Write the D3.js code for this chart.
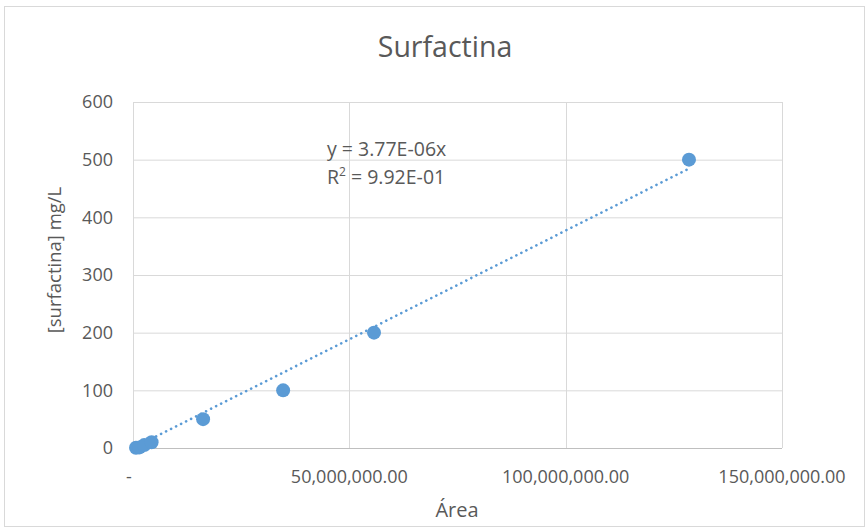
<!DOCTYPE html>
<html>
<head>
<meta charset="utf-8">
<script src="https://cdn.jsdelivr.net/npm/d3@7"></script>
<style>
  html, body { margin: 0; padding: 0; background: #fff; }
  text { font-family: "Open Sans", "Noto Sans", sans-serif; fill: #595959; }
</style>
</head>
<body>
<svg id="chart" width="867" height="529"></svg>
<script>
// Calibration points: peak area vs. surfactin concentration (mg/L)
const areas = [700000, 1500000, 2600000, 4300000, 16200000, 34700000, 55700000, 128500000];
const concentrations = [0.5, 1, 5, 10, 50, 100, 200, 500];
const slope = 3.77e-6;          // trendline through origin
const rSquared = "9.92E-01";
const xTicks = [0, 50000000, 100000000, 150000000];
const yTicks = [0, 100, 200, 300, 400, 500, 600];

const svg = d3.select("#chart");
const W = 867, H = 529;
const margin = { left: 133, right: W - 782, top: 102, bottom: H - 448 };

const x = d3.scaleLinear().domain([0, 150000000]).range([margin.left, W - margin.right]);
const y = d3.scaleLinear().domain([0, 600]).range([H - margin.bottom, margin.top]);

const blue = "#5b9bd5";

// outer chart border
svg.append("rect").attr("x", 4.5).attr("y", 6.5).attr("width", 860).attr("height", 520)
  .attr("fill", "#fff").attr("stroke", "#d9d9d9");

// horizontal gridlines
svg.append("g").selectAll("line").data(yTicks.filter(d => d > 0)).join("line")
  .attr("x1", x(0)).attr("x2", x(150000000))
  .attr("y1", d => y(d) + 0.5).attr("y2", d => y(d) + 0.5)
  .attr("stroke", "#d9d9d9");

// vertical gridlines
svg.append("g").selectAll("line").data(xTicks).join("line")
  .attr("x1", d => Math.round(x(d)) + 0.5).attr("x2", d => Math.round(x(d)) + 0.5)
  .attr("y1", y(600)).attr("y2", y(0))
  .attr("stroke", "#d9d9d9");

// baseline
svg.append("line").attr("x1", x(0)).attr("x2", x(150000000))
  .attr("y1", y(0) + 0.5).attr("y2", y(0) + 0.5).attr("stroke", "#bfbfbf");

// y tick labels
svg.append("g").selectAll("text").data(yTicks).join("text")
  .attr("x", 113).attr("y", d => y(d)).attr("dy", "0.35em")
  .attr("text-anchor", "end").attr("font-size", 18).text(d => d);

// x tick labels (accounting style: zero shown as a dash)
const fmt = d3.format(",.2f");
svg.append("g").selectAll("text").data(xTicks).join("text")
  .attr("x", d => d === 0 ? x(d) - 4 : x(d)).attr("y", 483)
  .attr("text-anchor", "middle").attr("font-size", 18)
  .text(d => d === 0 ? "-" : fmt(d));

// titles
svg.append("text").attr("x", 445).attr("y", 57).attr("text-anchor", "middle")
  .attr("font-size", 28.5).text("Surfactina");
svg.append("text").attr("x", 457).attr("y", 517).attr("text-anchor", "middle")
  .attr("font-size", 20).text("Área");
svg.append("text").attr("transform", "translate(61,260) rotate(-90)")
  .attr("text-anchor", "middle").attr("font-size", 18.5).text("[surfactina] mg/L");

// linear trendline through origin, spanning the data range
const xMin = d3.min(areas), xMax = d3.max(areas);
svg.append("line")
  .attr("x1", x(xMin)).attr("y1", y(slope * xMin))
  .attr("x2", x(xMax)).attr("y2", y(slope * xMax))
  .attr("stroke", blue).attr("stroke-width", 2.6)
  .attr("stroke-dasharray", "0.1,5.5").attr("stroke-linecap", "round");

// data markers
svg.append("g").selectAll("circle").data(areas.map((a, i) => [a, concentrations[i]])).join("circle")
  .attr("cx", d => x(d[0])).attr("cy", d => y(d[1])).attr("r", 7)
  .attr("fill", blue);

// trendline equation
const eq = svg.append("g").attr("font-size", 19.5);
eq.append("text").attr("x", 327).attr("y", 156).text("y = 3.77E-06x");
const r2 = eq.append("text").attr("x", 327).attr("y", 184);
r2.append("tspan").text("R");
r2.append("tspan").attr("dy", -8).attr("font-size", 12).text("2");
r2.append("tspan").attr("dy", 8).text(" = " + rSquared);
</script>
</body>
</html>
